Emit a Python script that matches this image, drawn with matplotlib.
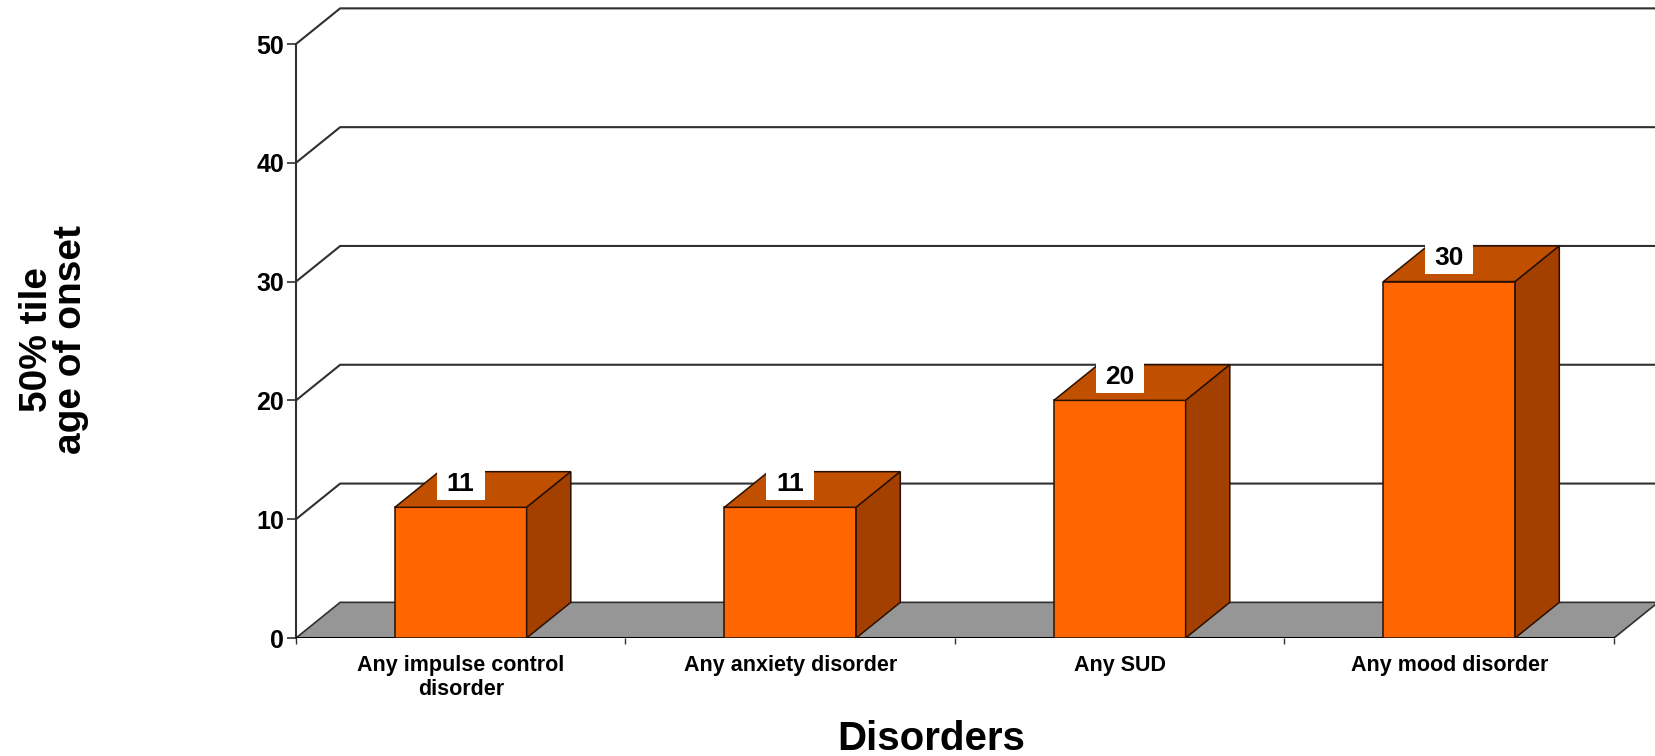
import numpy as np
import matplotlib.pyplot as plt
from matplotlib.patches import Polygon, Rectangle

# chart data
categories = ['Any impulse control\ndisorder', 'Any anxiety disorder', 'Any SUD', 'Any mood disorder']
values = [11, 11, 20, 30]
y_ticks = [0, 10, 20, 30, 40, 50]
y_label = '50% tile\nage of onset'
x_label = 'Disorders'

plt.rcParams['font.family'] = ['Liberation Sans', 'DejaVu Sans']
plt.rcParams['font.weight'] = 'bold'

fig = plt.figure(figsize=(16.56, 7.56), dpi=100)
ax = fig.add_axes([296 / 1656, 118 / 756, 1360 / 1656, 638 / 756])
n = len(categories)
ax.set_xlim(0, 1360 / 329.5)
ax.set_ylim(0, 638 / 118.8 * 10)
ax.patch.set_visible(False)

# fake 3d depth, in data units
dx, dy = 0.134, 3.0
bar_w = 0.4
front_c, top_c, side_c = '#FF6600', '#C05000', '#A34000'
bar_edge = '#2a1000'
grid_c = '#303030'

# back wall + left wall gridlines
for v in y_ticks[1:]:
    ax.plot([0, dx, n + dx], [v, v + dy, v + dy], color=grid_c, lw=1.5, zorder=1)

# floor
ax.add_patch(Polygon([(0, 0), (n, 0), (n + dx, dy), (dx, dy)], closed=True,
                     fc='#969696', ec=grid_c, lw=1.2, zorder=2))
ax.plot([0, n], [0, 0], color='black', lw=1.5, zorder=2.6)

# bars
lab_w, lab_h = 0.146, 2.86  # white label box size, data units
for i, v in enumerate(values):
    c = i + 0.5
    x0, x1 = c - bar_w / 2, c + bar_w / 2
    ax.add_patch(Polygon([(x0, 0), (x1, 0), (x1, v), (x0, v)],
                         fc=front_c, ec=bar_edge, lw=1.1, zorder=3))
    ax.add_patch(Polygon([(x0, v), (x1, v), (x1 + dx, v + dy), (x0 + dx, v + dy)],
                         fc=top_c, ec=bar_edge, lw=1.1, zorder=3))
    ax.add_patch(Polygon([(x1, 0), (x1 + dx, dy), (x1 + dx, v + dy), (x1, v)],
                         fc=side_c, ec=bar_edge, lw=1.1, zorder=3))
    ly = v + 2.05
    ax.add_patch(Rectangle((c - lab_w / 2, ly - lab_h / 2), lab_w, lab_h,
                           fc='white', ec='none', zorder=4))
    ax.text(c, ly - 0.1, str(v), ha='center', va='center', fontsize=19,
            fontweight='bold', zorder=5)

# axes, ticks
for s in ['top', 'right', 'bottom']:
    ax.spines[s].set_visible(False)
ax.spines['left'].set_bounds(0, 50)
ax.spines['left'].set_color(grid_c)
ax.spines['left'].set_linewidth(1.5)

ax.set_yticks(y_ticks)
ax.set_yticklabels([str(t) for t in y_ticks], fontsize=18, fontweight='bold')
ax.tick_params(axis='y', length=6.5, width=1.2, color=grid_c, pad=2)

ax.set_xticks(np.arange(n) + 0.5)
ax.set_xticklabels(categories, fontsize=15.5, fontweight='bold')
ax.set_xticks(np.arange(n + 1), minor=True)
ax.tick_params(axis='x', which='major', length=0, pad=12)
ax.tick_params(axis='x', which='minor', length=4, width=1.0, color=grid_c)

fig.text(54 / 1656, 1 - 340 / 756, y_label, rotation=90, fontsize=28, fontweight='bold',
         ha='center', va='center', linespacing=0.95, multialignment='center')
fig.text(931 / 1656, 1 - 739 / 756, x_label, fontsize=29, fontweight='bold',
         ha='center', va='center')

fig.savefig('out.png', dpi=100)
